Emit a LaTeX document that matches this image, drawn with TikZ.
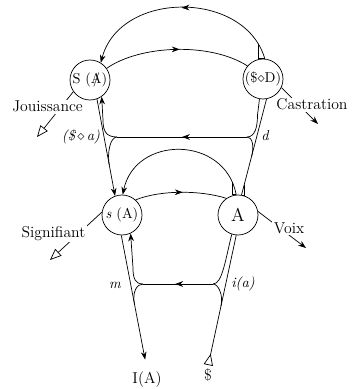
\documentclass[tikz,border=0pt]{standalone}
\usepackage{amssymb}
\usetikzlibrary{arrows.meta,calc,decorations.markings}
\newcommand{\barA}{\ooalign{A\cr\hidewidth/\hidewidth\cr}}

\begin{document}
\begin{tikzpicture}[x=0.7pt,y=-0.7pt,>={Stealth[length=5.5pt,width=4pt]},line width=0.5pt,
  ring/.style={draw,circle,minimum size=28pt,inner sep=0pt,font=\fontsize{10}{12}\selectfont},
  lbl/.style={fill=white,inner sep=1pt,anchor=base,font=\fontsize{11}{13}\selectfont},
  sym/.style={anchor=base,inner sep=1pt,font=\fontsize{10}{12}\selectfont\itshape},
  midarrow/.style={postaction={decorate},decoration={markings,mark=at position #1 with {\arrow{>}}}},
  srctip/.style={-{Triangle[open,length=8pt,width=6.5pt]}},
  sinktip/.style={-{Triangle[open,reversed,length=8pt,width=6.5pt]}}]
\useasboundingbox (0,0) rectangle (358,389);
\node[ring] (SA) at (90,80) {\makebox[0pt]{S (\barA)}};
\node[ring] (SD) at (263,79) {\makebox[0pt]{(\$$\diamond$D)}};
\node[ring] (sA) at (122,215) {\makebox[0pt]{\textit{s} (A)}};
\node[ring,font=\fontsize{13}{15}\selectfont] (A) at (238,215) {A};
\node[anchor=base,inner sep=1pt,font=\fontsize{11}{13}\selectfont] (IA) at (147,383) {I(A)};
\node[anchor=base,inner sep=1pt,font=\fontsize{11}{13}\selectfont] (Sbar) at (208,380) {\$};
\coordinate (jl) at (117,137);
\coordinate (jr) at (247,137);
\coordinate (kl) at (143,284);
\coordinate (kr) at (213,284);
\coordinate (jo) at (37,137);
\coordinate (ca) at (318,124);
\coordinate (si) at (50,260);
\coordinate (vo) at (306,248);
% upper storey
\draw[->,midarrow=0.5] (SD.85) .. controls (245,-10) and (120,-10) .. coordinate[pos=0.08] (t1) (SA.58);
\draw (t1) -- (t1 |- SD.85) -- (SD.85);
\draw[midarrow=0.52] (SA.35) .. controls (140,45) and (210,42) .. (SD.140);
\draw[midarrow=0.5] (jr) -- (jl);
\draw[->] (jl) .. controls (106,137) and (103,131) .. (103,120) -- (SA.-55);
\draw[->] (SA.-70) -- (sA.110);
\draw (jl) .. controls (110,137) and ($(SA.-70)!0.56!(sA.110)$) .. ($(SA.-70)!0.68!(sA.110)$);
\draw (jr) .. controls (255,137) and (257.5,127) .. (257.5,115) -- (SD.-100);
\draw (SD.-80) -- coordinate[pos=0.9] (t3) (A.80);
\draw (t3) -- (t3 |- A.80) -- (A.80);
\draw (jr) .. controls (252,137) and ($(SD.-80)!0.48!(A.80)$) .. ($(SD.-80)!0.6!(A.80)$);
% lower storey
\draw[->] (A.95) .. controls (225,135) and (135,135) .. coordinate[pos=0.08] (t2) (sA.88);
\draw (t2) -- (t2 |- A.95) -- (A.95);
\draw[midarrow=0.52] (sA.48) .. controls (160,190) and (200,190) .. (A.125);
\draw[midarrow=0.54] (kr) -- (kl);
\draw[->] (kl) .. controls (135,284) and (133,278) .. (133,268) -- (sA.-65);
\draw[->,shorten >=7pt] (sA.-92) -- (IA.north);
\draw (kl) .. controls (137,284) and ($(sA.-92)!0.42!(IA.north)$) .. ($(sA.-92)!0.51!(IA.north)$);
\draw (kr) .. controls (222,284) and (225,262) .. (A.-108);
\draw[sinktip,shorten >=1pt] (A.-95) -- (Sbar.north);
\draw (kr) .. controls (218,284) and ($(A.-95)!0.45!(Sbar.north)$) .. ($(A.-95)!0.54!(Sbar.north)$);
% side vectors
\draw[srctip] (SA.215) -- (jo);
\draw[->] (SD.-25) -- (ca);
\draw[srctip] (sA.172) -- (si);
\draw[->] (A.10) -- (vo);
\node[lbl] (jou) at (47.5,112) {Jouissance};
\node[lbl] (cas) at (312,110) {Castration};
\node[lbl] (sig) at (53.5,237) {Signifiant};
\node[lbl] (voix) at (289,233) {Voix};
\node[sym] (dem) at (81,141) {(\$\,$\diamond$\,a)};
\node[sym] (d) at (265,140) {d};
\node[sym] (m) at (115,288) {m};
\node[sym] (ia) at (243,287) {i(a)};
\end{tikzpicture}
\end{document}
